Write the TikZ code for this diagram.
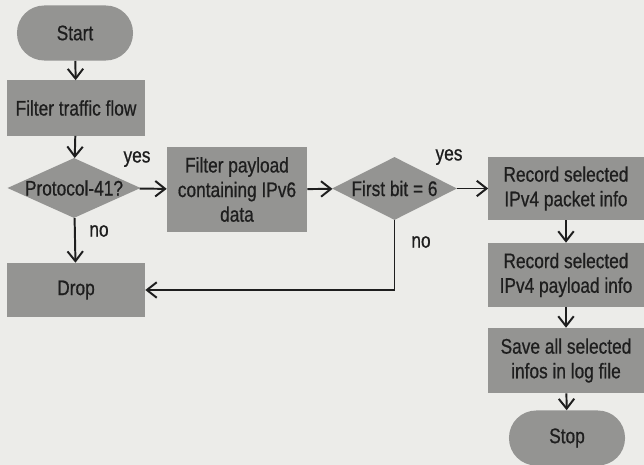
\documentclass[tikz,border=0pt]{standalone}
\usepackage{fontspec}
\setmainfont{Liberation Sans}[FakeStretch=0.82,FakeBold=0.7]
\usetikzlibrary{shapes.geometric,arrows.meta}
\definecolor{paper}{RGB}{236,236,233}
\definecolor{boxgrey}{RGB}{148,148,146}
\definecolor{ink}{RGB}{30,30,30}
\tikzset{
	box/.style={rectangle,fill=boxgrey,text=ink,align=center,inner sep=0pt},
	term/.style={box,rounded corners=0.68cm,minimum width=2.9cm,minimum height=1.375cm},
	proc/.style={box,minimum width=3.45cm,minimum height=1.375cm},
	dec/.style={diamond,fill=boxgrey,text=ink,inner sep=0pt},
	lbl/.style={text=ink,inner sep=0pt},
	arr/.style={draw=ink,line width=1.4pt,-{Straight Barb[length=7pt,width=11pt]}}
}
\begin{document}
\begin{tikzpicture}[x=0.025cm,y=-0.025cm,font=\fontsize{15}{17.5}\selectfont]
			\fill[paper] (0,0) rectangle (644,465);
			\useasboundingbox (0,0) rectangle (644,465);
			% left column
			\node[term] (start) at (75,33) {Start};
			\node[proc] (filter) at (76,108) {Filter traffic flow};
			\node[dec,minimum width=3.33cm,minimum height=1.5cm] (proto) at (74,188) {\makebox[0pt]{Protocol-41?}};
			\node[proc,minimum height=1.35cm] (drop) at (76,290) {Drop};
			% middle
			\node[proc,minimum width=3.5cm,minimum height=2.125cm] (payload) at (237,189.5) {Filter payload\\containing IPv6\\data};
			\node[dec,minimum width=3.125cm,minimum height=1.575cm] (firstbit) at (394.5,188.5) {\makebox[0pt]{First bit = 6}};
			% right column
			\node[proc,minimum width=3.875cm,minimum height=1.575cm] (pkt) at (566,188.5) {Record selected\\IPv4 packet info};
			\node[proc,minimum width=3.875cm,minimum height=1.6cm] (pay) at (566,275) {Record selected\\IPv4 payload info};
			\node[proc,minimum width=3.875cm,minimum height=1.625cm] (save) at (566,360.5) {Save all selected\\infos in log file};
			\node[term] (stop) at (567,438) {Stop};
			% labels
			\node[lbl] (yes1) at (137,159) {yes};
			\node[lbl] (no1) at (99,231) {no};
			\node[lbl] (yes2) at (449,157) {yes};
			\node[lbl] (no2) at (421,242) {no};
			% arrows
			\draw[arr] (start) -- (filter);
			\draw[arr] (filter) -- (proto);
			\draw[arr] (proto) -- (drop);
			\draw[arr] (proto) -- (payload);
			\draw[arr] (payload) -- (firstbit);
			\draw[arr] (firstbit) -- (pkt);
			\draw[arr] (firstbit.south) |- (drop.east);
			\draw[arr] (pkt) -- (pay);
			\draw[arr] (pay) -- (save);
			\draw[arr] (save) -- (stop);
		\end{tikzpicture}
\end{document}
